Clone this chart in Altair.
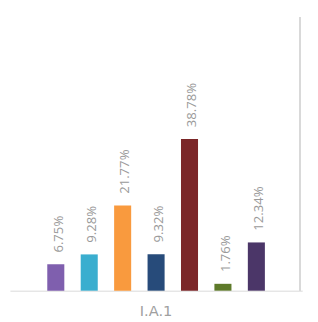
import altair as alt
import pandas as pd

group = ["I.A.1"] * 7
series = ["s1", "s2", "s3", "s4", "s5", "s6", "s7"]
values = [6.75, 9.28, 21.77, 9.32, 38.78, 1.76, 12.34]
colors = ["#7f5fae", "#3aaecf", "#f99a3e", "#274b7a", "#7b2628", "#5e7a2a", "#4b3668"]

df = pd.DataFrame({"grp": group, "series": series, "value": values})
df["label"] = [f"{v:.2f}%" for v in values]

W, H = 300, 281

base = alt.Chart(df).encode(
    x=alt.X("grp:N", title=None,
            scale=alt.Scale(paddingInner=0, paddingOuter=0.0137),
            axis=alt.Axis(domainColor="#d9d9d9", ticks=False, labelAngle=0,
                          labelFontSize=15, labelColor="#a0a0a0", labelFont="DejaVu Sans",
                          labelPadding=13)),
    xOffset=alt.XOffset("series:N", sort=series,
                        scale=alt.Scale(paddingInner=0.49, paddingOuter=1)),
    y=alt.Y("value:Q", scale=alt.Scale(domain=[0, 70]), axis=None),
)

bars = base.mark_bar().encode(
    color=alt.Color("series:N", sort=series,
                    scale=alt.Scale(domain=series, range=colors), legend=None)
)

text = base.mark_text(angle=270, align="left", baseline="middle", dx=12, dy=3,
                      font="Open Sans", fontSize=13.5, color="#9a9a9a").encode(
    text="label:N"
)

rule = alt.Chart(df).mark_rule(color="#d9d9d9", strokeWidth=1.5).encode(
    x=alt.value(W - 2), y=alt.value(0), y2=alt.value(H)
)

chart = alt.layer(bars, text, rule).properties(
    width=W, height=H,
    autosize=alt.AutoSizeParams(type="none"),
    padding={"left": 2, "top": 5, "right": 8, "bottom": 30},
).configure_view(stroke=None)

chart.save("out.html", embed_options={"renderer": "svg", "actions": False})
